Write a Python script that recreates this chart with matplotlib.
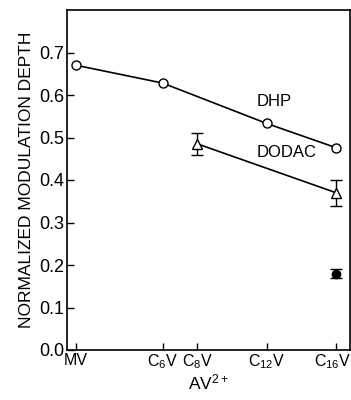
import matplotlib
matplotlib.use("Agg")
import matplotlib.pyplot as plt
import matplotlib.transforms as mtransforms

plt.rcParams['font.family'] = ['Liberation Sans', 'DejaVu Sans']
plt.rcParams['mathtext.fontset'] = 'custom'
plt.rcParams['mathtext.rm'] = 'Liberation Sans'
plt.rcParams['mathtext.it'] = 'Liberation Sans'

# carbon number of the alkyl chain
x_ticks = [1, 6, 8, 12, 16]
x_labels = ['MV', 'C$_6$V', 'C$_8$V', 'C$_{12}$V', 'C$_{16}$V']

dhp_x = [1, 6, 12, 16]
dhp_y = [0.670, 0.628, 0.533, 0.476]

dodac_x = [8, 16]
dodac_y = [0.485, 0.370]
dodac_err = [0.025, 0.030]

solid_x = [16]
solid_y = [0.180]
solid_err = [0.010]

y_ticks = [0.0, 0.1, 0.2, 0.3, 0.4, 0.5, 0.6, 0.7]
y_labels = ['0.0', '0.1', '0.2', '0.3', '0.4', '0.5', '0.6', '0.7']

fig = plt.figure(figsize=(3.51, 4.0), dpi=100)
ax = fig.add_axes([0.191, 0.125, 0.806, 0.85])

ax.plot(dhp_x, dhp_y, '-', color='black', lw=1.2, zorder=2)
ax.plot(dhp_x, dhp_y, 'o', mfc='white', mec='black', ms=6.5, mew=1.0, zorder=3)

ax.errorbar(dodac_x, dodac_y, yerr=dodac_err, fmt='-', color='black', lw=1.2,
            capsize=4, elinewidth=1.0, capthick=1.0, zorder=2)
ax.plot(dodac_x, dodac_y, '^', mfc='white', mec='black', ms=7, mew=1.0, zorder=3)

ax.errorbar(solid_x, solid_y, yerr=solid_err, fmt='o', color='black', ms=6,
            capsize=4, elinewidth=1.0, capthick=1.0, zorder=3)

ax.text(11.4, 0.575, 'DHP', fontsize=12)
ax.text(11.4, 0.455, 'DODAC', fontsize=12)

ax.set_xlim(0.48, 16.8)
ax.set_ylim(0.0, 0.8)
ax.set_xticks(x_ticks)
ax.set_xticklabels(x_labels, fontsize=11.5)
ax.set_yticks(y_ticks)
ax.set_yticklabels(y_labels, fontsize=13)
ax.tick_params(direction='in', length=5, width=1.0, pad=2)
ax.tick_params(axis='x', pad=2)
for s in ax.spines.values():
    s.set_linewidth(1.2)

# nudge the last x label so it stays inside the picture
last = ax.get_xticklabels()[-1]
last.set_transform(last.get_transform() + mtransforms.ScaledTranslation(-3/100, 0, fig.dpi_scale_trans))

ax.set_ylabel('NORMALIZED MODULATION DEPTH', fontsize=12.5, labelpad=4)
ax.set_xlabel('AV$^{2+}$', fontsize=12.5, labelpad=1)

fig.savefig('out.png', dpi=100)
